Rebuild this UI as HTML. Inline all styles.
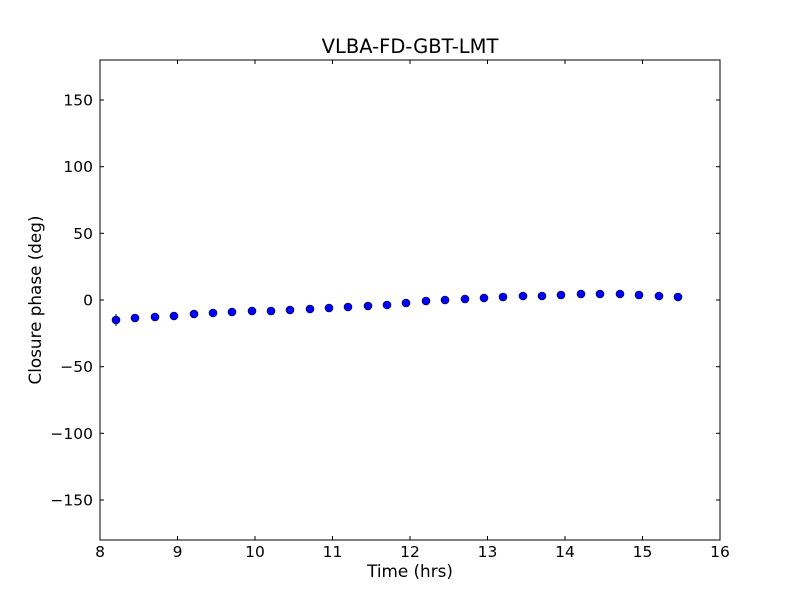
<!DOCTYPE html>
<html><head><meta charset="utf-8"><style>body{margin:0;background:#fff}svg{display:block}</style></head>
<body>
<svg width="800" height="600" xmlns="http://www.w3.org/2000/svg" font-family="DejaVu Sans, sans-serif">
<rect width="800" height="600" fill="#fff"/>
<text x="410" y="53" font-size="19.5" text-anchor="middle">VLBA-FD-GBT-LMT</text>
<g stroke="#000" stroke-width="1">
<line x1="116" y1="314" x2="116" y2="326"/>
</g>
<g fill="#0000ff" stroke="#000" stroke-width="0.6">
<circle cx="116" cy="320" r="4"/><circle cx="135" cy="318" r="4"/><circle cx="155" cy="317" r="4"/><circle cx="174" cy="316" r="4"/><circle cx="194" cy="314" r="4"/><circle cx="213" cy="313" r="4"/><circle cx="232" cy="312" r="4"/><circle cx="252" cy="311" r="4"/><circle cx="271" cy="311" r="4"/><circle cx="290" cy="310" r="4"/><circle cx="310" cy="309" r="4"/><circle cx="329" cy="308" r="4"/><circle cx="348" cy="307" r="4"/><circle cx="368" cy="306" r="4"/><circle cx="387" cy="305" r="4"/><circle cx="406" cy="303" r="4"/><circle cx="426" cy="301" r="4"/><circle cx="445" cy="300" r="4"/><circle cx="465" cy="299" r="4"/><circle cx="484" cy="298" r="4"/><circle cx="503" cy="297" r="4"/><circle cx="523" cy="296" r="4"/><circle cx="542" cy="296" r="4"/><circle cx="561" cy="295" r="4"/><circle cx="581" cy="294" r="4"/><circle cx="600" cy="294" r="4"/><circle cx="620" cy="294" r="4"/><circle cx="639" cy="295" r="4"/><circle cx="659" cy="296" r="4"/><circle cx="678" cy="297" r="4"/>
</g>
<rect x="100" y="60" width="620" height="480" fill="none" stroke="#000" stroke-width="1"/>
<g stroke="#000" stroke-width="1">
<line x1="177.5" y1="540" x2="177.5" y2="536"/><line x1="177.5" y1="60" x2="177.5" y2="64"/>
<line x1="255" y1="540" x2="255" y2="536"/><line x1="255" y1="60" x2="255" y2="64"/>
<line x1="332.5" y1="540" x2="332.5" y2="536"/><line x1="332.5" y1="60" x2="332.5" y2="64"/>
<line x1="410" y1="540" x2="410" y2="536"/><line x1="410" y1="60" x2="410" y2="64"/>
<line x1="487.5" y1="540" x2="487.5" y2="536"/><line x1="487.5" y1="60" x2="487.5" y2="64"/>
<line x1="565" y1="540" x2="565" y2="536"/><line x1="565" y1="60" x2="565" y2="64"/>
<line x1="642.5" y1="540" x2="642.5" y2="536"/><line x1="642.5" y1="60" x2="642.5" y2="64"/>
<line x1="100" y1="100" x2="104" y2="100"/><line x1="720" y1="100" x2="716" y2="100"/>
<line x1="100" y1="166.7" x2="104" y2="166.7"/><line x1="720" y1="166.7" x2="716" y2="166.7"/>
<line x1="100" y1="233.3" x2="104" y2="233.3"/><line x1="720" y1="233.3" x2="716" y2="233.3"/>
<line x1="100" y1="300" x2="104" y2="300"/><line x1="720" y1="300" x2="716" y2="300"/>
<line x1="100" y1="366.7" x2="104" y2="366.7"/><line x1="720" y1="366.7" x2="716" y2="366.7"/>
<line x1="100" y1="433.3" x2="104" y2="433.3"/><line x1="720" y1="433.3" x2="716" y2="433.3"/>
<line x1="100" y1="500" x2="104" y2="500"/><line x1="720" y1="500" x2="716" y2="500"/>
</g>
<g font-size="15.5" text-anchor="middle">
<text x="100" y="557">8</text><text x="177.5" y="557">9</text><text x="255" y="557">10</text><text x="332.5" y="557">11</text><text x="410" y="557">12</text><text x="487.5" y="557">13</text><text x="565" y="557">14</text><text x="642.5" y="557">15</text><text x="720" y="557">16</text>
</g>
<g font-size="15.5" text-anchor="end">
<text x="93" y="105.5">150</text><text x="93" y="172.2">100</text><text x="93" y="238.8">50</text><text x="93" y="305.5">0</text><text x="93" y="372.2">−50</text><text x="93" y="438.8">−100</text><text x="93" y="505.5">−150</text>
</g>
<text x="410" y="577" font-size="16.8" text-anchor="middle">Time (hrs)</text>
<text x="41" y="300" font-size="16.8" text-anchor="middle" transform="rotate(-90 41 300)">Closure phase (deg)</text>
</svg>
</body></html>
